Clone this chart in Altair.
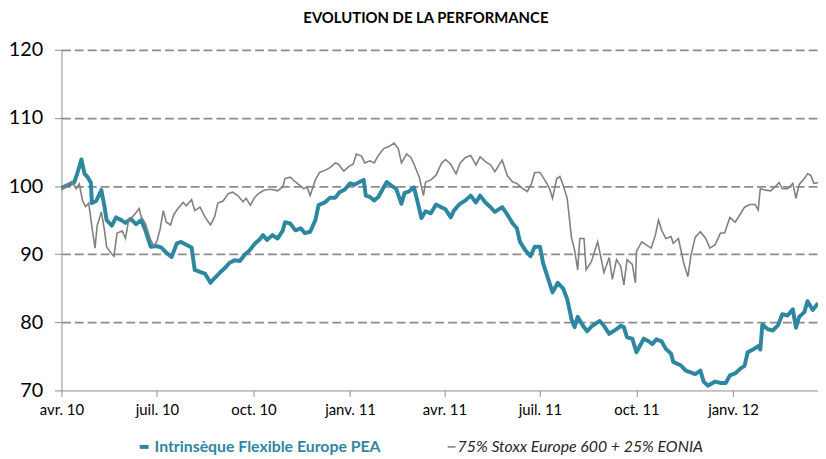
import altair as alt
import pandas as pd

title_text = "EVOLUTION DE LA PERFORMANCE"
start_date = "2010-04-01"
end_date = "2012-03-22"
tick_dates = ["2010-04-01", "2010-07-01", "2010-10-01", "2011-01-01",
              "2011-04-01", "2011-07-01", "2011-10-01", "2012-01-01"]
month_names = ["janv.", "févr.", "mars", "avr.", "mai", "juin",
               "juil.", "août", "sept.", "oct.", "nov.", "déc."]
y_ticks = [70, 80, 90, 100, 110, 120]

fund_name = "Intrinsèque Flexible Europe PEA"
bench_name = "75% Stoxx Europe 600 + 25% EONIA"

# days since 1 April 2010
fund_days = [0, 8, 12, 15, 19, 22, 25, 28, 29, 33, 38, 41, 43, 48, 52, 57, 61, 66, 71, 76,
             80, 85, 90, 95, 100, 105, 110, 114, 119, 124, 127, 132, 137, 142, 146, 151, 156,
             160, 165, 170, 175, 179, 184, 189, 192, 196, 201, 206, 211, 213, 218, 223, 228,
             232, 237, 242, 245, 251, 256, 261, 265, 270, 275, 279, 284, 288, 290, 294, 298,
             302, 307, 310, 314, 319, 324, 327, 331, 336, 340, 343, 347, 352, 357, 362, 366,
             371, 374, 379, 385, 390, 395, 399, 404, 409, 413, 420, 425, 430, 434, 437, 442,
             447, 451, 456, 459, 464, 468, 473, 478, 482, 486, 489, 492, 497, 501, 506, 513,
             517, 522, 529, 533, 536, 539, 544, 548, 555, 560, 563, 567, 572, 576, 581, 583,
             590, 595, 599, 604, 609, 612, 616, 623, 628, 633, 637, 642, 647, 651, 654, 659,
             664, 666, 668, 673, 678, 683, 687, 692, 697, 700, 703, 708, 711, 716, 721]
fund_values = [99.7, 100.3, 100.5, 101.8, 103.9, 101.8, 101.3, 100.5, 97.5, 97.8, 99.4, 97.0,
               95.0, 94.2, 95.4, 95.0, 94.6, 95.2, 94.4, 95.0, 93.5, 91.1, 91.2, 91.0, 90.2,
               89.6, 91.6, 91.8, 91.4, 91.0, 87.7, 87.4, 87.1, 85.8, 86.5, 87.3, 88.0, 88.7,
               89.1, 89.0, 90.0, 90.5, 91.5, 92.2, 92.8, 92.1, 92.8, 92.3, 93.5, 94.7, 94.5,
               93.5, 93.8, 93.1, 93.3, 95.0, 97.2, 97.6, 98.3, 98.3, 99.1, 99.5, 100.4, 100.2,
               100.6, 100.9, 98.6, 98.4, 97.9, 98.4, 99.8, 100.6, 100.1, 99.6, 97.4, 99.0,
               99.2, 99.8, 97.3, 95.3, 96.3, 96.0, 97.3, 96.9, 96.6, 95.4, 96.4, 97.3, 97.9,
               98.6, 97.6, 98.6, 97.6, 96.9, 96.2, 96.9, 95.8, 94.5, 93.8, 91.8, 90.6, 89.7,
               91.1, 91.1, 88.7, 86.3, 84.4, 85.8, 85.0, 83.4, 80.5, 79.3, 80.8, 79.5, 78.7,
               79.5, 80.2, 79.5, 78.3, 79.0, 79.5, 79.3, 77.8, 77.6, 75.6, 77.6, 77.2, 76.8,
               77.5, 77.2, 76.1, 75.4, 74.2, 73.7, 72.9, 72.7, 72.4, 72.9, 71.3, 70.7, 71.3,
               71.1, 71.1, 72.2, 72.5, 73.2, 73.6, 75.6, 76.0, 76.5, 76.0, 79.7, 79.0, 78.8,
               79.6, 81.2, 81.0, 81.9, 79.2, 80.8, 81.5, 83.1, 81.8, 82.8]

bench_days = [0, 6, 10, 14, 17, 20, 23, 26, 29, 32, 34, 38, 41, 43, 47, 50, 53, 58, 61, 64,
              69, 74, 76, 80, 85, 88, 91, 94, 97, 100, 104, 107, 111, 116, 119, 124, 127, 132,
              137, 142, 146, 149, 154, 159, 163, 168, 173, 176, 180, 184, 187, 192, 196, 201,
              206, 211, 213, 218, 223, 227, 231, 234, 237, 242, 246, 251, 256, 261, 264, 269,
              274, 278, 281, 286, 289, 294, 298, 302, 307, 312, 317, 321, 324, 329, 333, 336,
              341, 345, 347, 352, 357, 362, 366, 371, 376, 380, 385, 390, 395, 399, 404, 409,
              413, 420, 425, 430, 434, 439, 444, 448, 451, 456, 461, 465, 468, 472, 475, 478,
              482, 486, 489, 492, 494, 498, 500, 505, 511, 514, 517, 522, 525, 529, 533, 536,
              539, 544, 547, 548, 553, 558, 562, 566, 569, 572, 576, 581, 583, 588, 593, 597,
              600, 604, 609, 614, 618, 623, 628, 632, 637, 642, 647, 651, 656, 661, 664, 666,
              671, 676, 680, 684, 687, 692, 697, 700, 703, 708, 711, 714, 717, 721]
bench_values = [99.4, 100.3, 100.7, 99.6, 100.3, 97.9, 97.0, 97.5, 94.0, 90.9, 94.2, 96.2,
                93.5, 91.1, 90.2, 89.7, 93.1, 93.4, 92.3, 95.0, 95.7, 96.7, 95.5, 94.5, 92.1,
                91.2, 91.9, 93.7, 96.4, 94.7, 94.3, 95.8, 96.7, 97.6, 97.1, 98.0, 96.4, 96.9,
                95.4, 94.3, 95.5, 97.5, 97.8, 98.9, 99.1, 98.6, 97.7, 98.2, 97.2, 98.3, 98.8,
                99.3, 99.5, 99.5, 99.3, 99.9, 101.1, 101.3, 100.6, 100.1, 99.6, 99.9, 98.6,
                100.9, 102.0, 102.3, 102.7, 103.4, 103.2, 102.2, 102.9, 103.2, 104.7, 104.4,
                103.4, 103.7, 103.4, 104.5, 105.5, 105.8, 106.3, 105.5, 103.4, 104.7, 104.2,
                103.2, 101.3, 98.6, 100.6, 100.9, 101.6, 103.3, 103.9, 103.2, 101.8, 103.4,
                104.2, 104.5, 103.1, 104.3, 103.6, 103.1, 102.1, 103.8, 101.5, 100.6, 100.4,
                99.7, 99.2, 100.4, 102.0, 102.0, 100.8, 99.7, 98.2, 101.1, 101.4, 100.2, 98.2,
                92.5, 90.6, 87.7, 92.3, 92.3, 87.7, 88.9, 91.8, 89.6, 87.3, 89.5, 86.3, 89.2,
                88.2, 85.5, 89.2, 88.5, 85.8, 90.4, 91.8, 91.3, 90.9, 92.8, 95.0, 93.5, 92.3,
                92.6, 91.6, 92.3, 88.7, 86.7, 89.9, 92.5, 93.3, 92.3, 90.9, 91.4, 93.1, 93.1,
                95.4, 94.7, 95.9, 96.9, 97.3, 97.3, 96.5, 99.6, 99.4, 99.3, 99.9, 100.5, 99.6,
                99.6, 100.4, 98.2, 100.2, 101.1, 101.8, 101.6, 100.4, 100.5]

teal = "#2E87A0"
gray = "#808080"
axis_gray = "#8C8C8C"
font = "Lato"

start = pd.Timestamp(start_date)
fund_df = pd.DataFrame({
    "date": [start + pd.Timedelta(days=d) for d in fund_days],
    "value": fund_values,
})
bench_df = pd.DataFrame({
    "date": [start + pd.Timedelta(days=d) for d in bench_days],
    "value": bench_values,
})


def dt(s):
    t = pd.Timestamp(s)
    return alt.DateTime(year=t.year, month=t.month, date=t.day)


month_js = "[" + ",".join("'" + m + "'" for m in month_names) + "]"
x_label_expr = month_js + "[month(datum.value)] + ' ' + timeFormat(datum.value, '%y')"

x_enc = alt.X(
    "date:T",
    scale=alt.Scale(domain=[dt(start_date), dt(end_date)], nice=False),
    axis=alt.Axis(
        values=[dt(s) for s in tick_dates],
        labelExpr=x_label_expr, labelFlush=False,
        labelFont=font, labelFontSize=15, labelColor="#000000",
        labelPadding=6, tickSize=6, tickColor=axis_gray,
        domainColor=axis_gray, grid=False, title=None,
    ),
)
y_enc = alt.Y(
    "value:Q",
    scale=alt.Scale(domain=[70, 120], nice=False, zero=False),
    axis=alt.Axis(
        values=y_ticks, labelFont=font, labelFontSize=20, labelColor="#000000",
        labelPadding=12, tickSize=7, tickColor=axis_gray, domainColor=axis_gray,
        grid=True, gridDash=[9, 4], gridColor=axis_gray, gridWidth=1.8,
        gridOpacity={"condition": {"test": "datum.value == 70", "value": 0}, "value": 1},
        labelFlush=False, title=None,
    ),
)

fund_line = alt.Chart(fund_df).mark_line(color=teal, strokeWidth=4, strokeJoin="round").encode(
    x=x_enc, y=y_enc)
bench_line = alt.Chart(bench_df).mark_line(color=gray, strokeWidth=1.6).encode(
    x="date:T", y="value:Q")

one = pd.DataFrame({"fund": [fund_name], "bench": [bench_name]})
leg_y = 401
leg_fund_sym = alt.Chart(one).mark_rule(color=teal, strokeWidth=4).encode(
    x=alt.value(79), x2=alt.value(88), y=alt.value(leg_y))
leg_fund_txt = alt.Chart(one).mark_text(
    align="left", baseline="middle", font=font, fontSize=16, fontWeight="bold", color=teal
).encode(x=alt.value(94), y=alt.value(leg_y), text="fund:N")
leg_bench_sym = alt.Chart(one).mark_rule(color=gray, strokeWidth=1.6).encode(
    x=alt.value(390), x2=alt.value(398), y=alt.value(leg_y))
leg_bench_txt = alt.Chart(one).mark_text(
    align="left", baseline="middle", font=font, fontSize=16, fontStyle="italic", color="#262626"
).encode(x=alt.value(400), y=alt.value(leg_y), text="bench:N")

chart = alt.layer(
    fund_line, bench_line, leg_fund_sym, leg_fund_txt, leg_bench_sym, leg_bench_txt
).properties(
    width=764, height=344,
    title=alt.TitleParams(title_text, font=font, fontSize=15, fontWeight="bold",
                          color="#000000", anchor="middle", dx=-14, offset=14),
    autosize=alt.AutoSizeParams(type="none"),
    padding={"left": 54, "top": 40, "right": 0, "bottom": 67},
).configure_view(stroke=None)

chart.save("out.html", embed_options={"renderer": "svg", "actions": False})
